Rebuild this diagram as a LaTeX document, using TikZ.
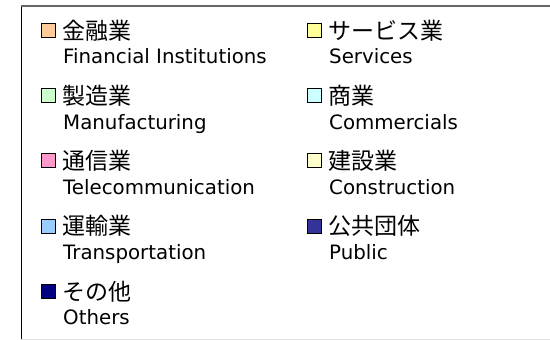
\documentclass[tikz,border=0pt]{standalone}
\usepackage{fontspec}
\setmainfont{DejaVu Sans}
\newfontfamily\jpfont{Noto Sans CJK JP}

\definecolor{finance}{HTML}{FFCC99}
\definecolor{manufact}{HTML}{CCFFCC}
\definecolor{telecom}{HTML}{FF99CC}
\definecolor{transport}{HTML}{99CCFF}
\definecolor{others}{HTML}{000080}
\definecolor{services}{HTML}{FFFF99}
\definecolor{commerce}{HTML}{CCFFFF}
\definecolor{construct}{HTML}{FFFFCC}
\definecolor{public}{HTML}{333399}

\tikzset{
    swatch/.style={draw, line width=1pt, inner sep=0pt, minimum size=14pt},
    jplabel/.style={anchor=west, inner sep=0pt, font=\jpfont\fontsize{23}{26}\selectfont},
    enlabel/.style={anchor=base west, inner sep=0pt, font=\fontsize{19.8}{24}\selectfont}
}

\begin{document}
\begin{tikzpicture}[x=1pt,y=1pt]
    \useasboundingbox (0,0) rectangle (550,340);
    
    % frame
    \draw[line width=1pt] (21,0) -- (21,334);
    \draw[line width=1.5pt, black!60] (21,334) -- (550,334);
    \draw[black!12] (21,1) -- (550,1);
    
    % left column
    \node[swatch, fill=finance] (finBox) at (48.5,309.7) {};
    \node[jplabel] (finJp) at (62,309.7) {金融業};
    \node[enlabel] (finEn) at (63,276.2) {Financial Institutions};
    
    \node[swatch, fill=manufact] (mfgBox) at (48.5,244.4) {};
    \node[jplabel] (mfgJp) at (62,244.4) {製造業};
    \node[enlabel] (mfgEn) at (63,210.9) {Manufacturing};
    
    \node[swatch, fill=telecom] (telBox) at (48.5,179.1) {};
    \node[jplabel] (telJp) at (62,179.1) {通信業};
    \node[enlabel] (telEn) at (63,145.6) {Telecommunication};
    
    \node[swatch, fill=transport] (trnBox) at (48.5,113.8) {};
    \node[jplabel] (trnJp) at (62,113.8) {運輸業};
    \node[enlabel] (trnEn) at (63,80.3) {Transportation};
    
    \node[swatch, fill=others] (othBox) at (48.5,48.5) {};
    \node[jplabel] (othJp) at (62,48.5) {その他};
    \node[enlabel] (othEn) at (63,15) {Others};
    
    % right column
    \node[swatch, fill=services] (srvBox) at (314.5,309.7) {};
    \node[jplabel] (srvJp) at (328,309.7) {サービス業};
    \node[enlabel] (srvEn) at (329,276.2) {Services};
    
    \node[swatch, fill=commerce] (comBox) at (314.5,244.4) {};
    \node[jplabel] (comJp) at (328,244.4) {商業};
    \node[enlabel] (comEn) at (329,210.9) {Commercials};
    
    \node[swatch, fill=construct] (conBox) at (314.5,179.1) {};
    \node[jplabel] (conJp) at (328,179.1) {建設業};
    \node[enlabel] (conEn) at (329,145.6) {Construction};
    
    \node[swatch, fill=public] (pubBox) at (314.5,113.8) {};
    \node[jplabel] (pubJp) at (328,113.8) {公共団体};
    \node[enlabel] (pubEn) at (329,80.3) {Public};
    
\end{tikzpicture}
\end{document}
